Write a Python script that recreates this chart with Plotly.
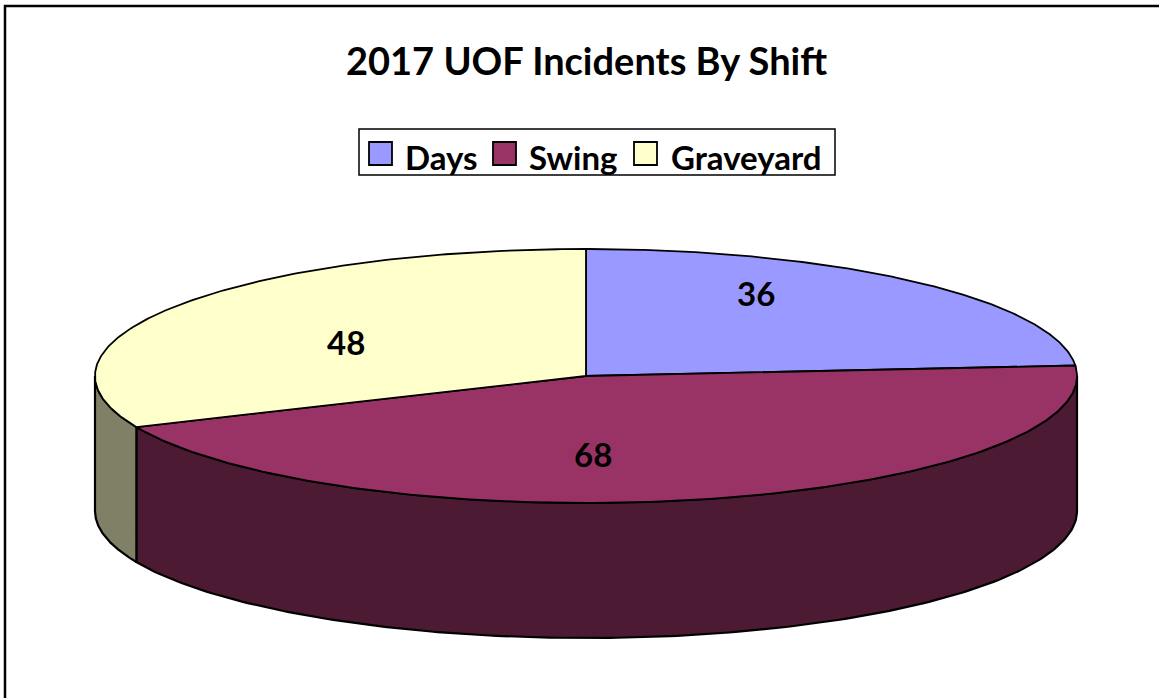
import numpy as np
import plotly.graph_objects as go

# ---- data ----
categories = ["Days", "Swing", "Graveyard"]
values = [36, 68, 48]
top_colors = ["#9999FF", "#993366", "#FFFFCC"]
side_colors = ["#4D4D80", "#4D1A33", "#808066"]
label_pos = [(756, 293), (593, 454), (346, 342)]  # label anchor (px)

title = "2017 UOF Incidents By Shift"

# ---- geometry (pixel-like axes) ----
W, H = 1159, 698
cx, cy = 586, 376
rx, ry = 491, 127
depth = 135
FONT = "Lato, 'Open Sans', sans-serif"


def arc(a0, a1, n=200, dy=0.0):
    t = np.radians(np.linspace(a0, a1, n))
    return cx + rx * np.cos(t), cy - ry * np.sin(t) + dy


total = float(sum(values))
angles = [90.0]
for v in values:
    angles.append(angles[-1] - 360.0 * v / total)

fig = go.Figure()

# side walls (visible front half: sin(t) < 0)
bands = [(-180, 0), (180, 360), (-540, -360)]
for i in range(len(values)):
    a0, a1 = angles[i], angles[i + 1]  # a0 > a1
    lo, hi = a1, a0
    for b0, b1 in bands:
        s, e = max(lo, b0), min(hi, b1)
        if e - s > 1e-6:
            xt, yt = arc(e, s)
            xb, yb = arc(s, e, dy=depth)
            xs = np.concatenate([xt, xb, [xt[0]]])
            ys = np.concatenate([yt, yb, [yt[0]]])
            fig.add_trace(go.Scatter(x=xs, y=ys, mode="lines", fill="toself",
                                     fillcolor=side_colors[i],
                                     line=dict(color="black", width=2.2),
                                     hoverinfo="skip", showlegend=False))

# top faces
for i in range(len(values)):
    a0, a1 = angles[i], angles[i + 1]
    xa, ya = arc(a0, a1)
    xs = np.concatenate([[cx], xa, [cx]])
    ys = np.concatenate([[cy], ya, [cy]])
    fig.add_trace(go.Scatter(x=xs, y=ys, mode="lines", fill="toself",
                             fillcolor=top_colors[i],
                             line=dict(color="black", width=1.8),
                             hoverinfo="skip", showlegend=False))

# data labels
for i, v in enumerate(values):
    lx, ly = label_pos[i]
    fig.add_annotation(x=lx, y=ly, text=f"<b>{v}</b>", showarrow=False,
                       font=dict(family=FONT, size=33, color="black"),
                       xanchor="center", yanchor="middle")

# title
fig.add_annotation(x=586, y=60, text=f"<b>{title}</b>", showarrow=False,
                   font=dict(family=FONT, size=38, color="black"),
                   xanchor="center", yanchor="middle")

shapes = []
# outer chart frame
shapes.append(dict(type="rect", xref="x", yref="y", x0=5, y0=6, x1=W + 10, y1=H + 10,
                   line=dict(color="black", width=2.5), fillcolor="rgba(0,0,0,0)"))
# legend box
shapes.append(dict(type="rect", xref="x", yref="y", x0=359, y0=129, x1=835, y1=175,
                   line=dict(color="black", width=1.5), fillcolor="white", layer="below"))
sw_x = [369, 493, 634]
tx_x = [403, 527, 669]
for i, name in enumerate(categories):
    shapes.append(dict(type="rect", xref="x", yref="y", x0=sw_x[i], y0=142,
                       x1=sw_x[i] + 23, y1=165, fillcolor=top_colors[i],
                       line=dict(color="black", width=1.8)))
    fig.add_annotation(x=tx_x[i], y=157, text=f"<b>{name}</b>", showarrow=False,
                       font=dict(family=FONT, size=33, color="black"),
                       xanchor="left", yanchor="middle")

fig.update_layout(
    width=W, height=H,
    margin=dict(l=0, r=0, t=0, b=0),
    paper_bgcolor="white", plot_bgcolor="white",
    xaxis=dict(range=[0, W], visible=False, fixedrange=True),
    yaxis=dict(range=[H, 0], visible=False, fixedrange=True),
    shapes=shapes,
    showlegend=False,
)

fig.write_html("out.html",
               config={"displayModeBar": False},
               post_script="document.body.style.margin='0';document.body.style.overflow='hidden';")
